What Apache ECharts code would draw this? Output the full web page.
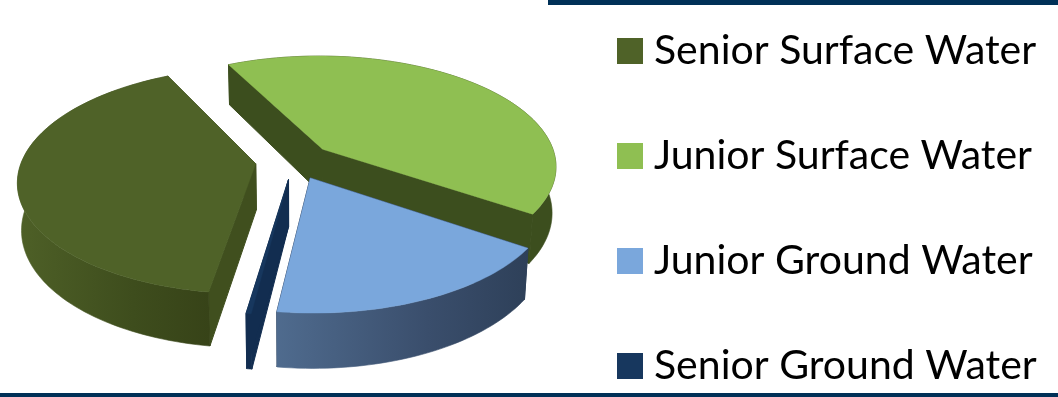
<!DOCTYPE html>
<html>
<head>
<meta charset="utf-8">
<style>html,body{margin:0;padding:0;background:#fff}#chart{width:1058px;height:397px}</style>
<script src="https://cdn.jsdelivr.net/npm/echarts@6/dist/echarts.min.js"></script>
</head>
<body>
<div id="chart"></div>
<script>
// Water right shares, in percent, clockwise around the pie.
const categories = ['Senior Surface Water', 'Junior Surface Water', 'Junior Ground Water', 'Senior Ground Water'];
const shares = [40.3, 41.8, 17.6, 0.3];
const firstSliceAngle = 188.5;

const topColors = ['#4F6228', '#8FBF52', '#7AA7DC', '#17375E'];
const cutColors = ['#404F1E', '#3C4E1E', '#2E4059', '#122D50'];
const wallStops = [
  ['#4E6027', '#3E4D1D', '#374318'],
  ['#3C4E1E', '#3C4E1E', '#3C4E1E'],
  ['#4F6B8E', '#3A4E6C', '#2E4059'],
  ['#122D50', '#122D50', '#122D50']
];
// Slices are painted back to front, so the blue face sits over the green wall.
const paintOrder = [1, 0, 3, 2];

// Projection of the tilted pie onto the screen.
const view = { cx: 294, cy: 161, rx: 234, ry: 110, persp: 0.146, explode: 0.165, depth: 46, shrink: 0.985 };

function project(u, v) {
  const s = 1 / (1 - view.persp * v);
  return { x: view.cx + view.rx * u * s, y: view.cy + view.ry * v * s, s };
}
function topPoint(u, v) {
  const p = project(u, v);
  return [p.x, p.y];
}
function bottomPoint(u, v) {
  const p = project(u, v);
  return [view.cx + (p.x - view.cx) * view.shrink, p.y + view.depth * p.s];
}

function sliceRange(index) {
  const total = shares.reduce((a, b) => a + b, 0);
  let start = firstSliceAngle;
  for (let i = 0; i < index; i++) start += shares[i] / total * 360;
  return [start, start + shares[index] / total * 360];
}

function renderSlice(index) {
  const [from, to] = sliceRange(index);
  const rad = d => d * Math.PI / 180;
  const mid = rad((from + to) / 2);
  const ou = view.explode * Math.sin(mid), ov = -view.explode * Math.cos(mid);
  const steps = Math.max(4, Math.ceil((to - from) / 1.5));
  const arc = [];
  for (let i = 0; i <= steps; i++) {
    const t = rad(from + (to - from) * i / steps);
    arc.push([ou + Math.sin(t), ov - Math.cos(t)]);
  }
  const topArc = arc.map(a => topPoint(a[0], a[1]));
  const lowArc = arc.map(a => bottomPoint(a[0], a[1]));
  const apexTop = topPoint(ou, ov), apexLow = bottomPoint(ou, ov);
  const poly = (points, fill, lineWidth) => ({
    type: 'polygon',
    shape: { points },
    style: { fill, stroke: fill, lineWidth, lineJoin: 'round' }
  });
  const xs = topArc.concat(lowArc).map(p => p[0]);
  const stops = wallStops[index];
  return {
    type: 'group',
    children: [
      poly([apexTop, topArc[0], lowArc[0], apexLow], cutColors[index], 1),
      poly([apexTop, topArc[steps], lowArc[steps], apexLow], cutColors[index], 1),
      poly(topArc.concat(lowArc.slice().reverse()), {
        type: 'linear', global: true,
        x: Math.min.apply(null, xs), y: 0, x2: Math.max.apply(null, xs), y2: 0,
        colorStops: [
          { offset: 0, color: stops[0] },
          { offset: 0.6, color: stops[1] },
          { offset: 1, color: stops[2] }
        ]
      }, 0.6),
      poly([apexTop].concat(topArc), topColors[index], 0.4)
    ]
  };
}

const series = paintOrder.map(i => ({
  type: 'custom',
  name: categories[i],
  coordinateSystem: 'none',
  silent: true,
  animation: false,
  itemStyle: { color: topColors[i] },
  data: [shares[i]],
  renderItem: () => renderSlice(i)
}));

const chart = echarts.init(document.getElementById('chart'), null, { renderer: 'canvas' });
chart.setOption({
  animation: false,
  backgroundColor: '#fff',
  legend: {
    data: categories,
    orient: 'vertical',
    left: 617,
    top: 29,
    padding: 0,
    itemWidth: 26,
    itemHeight: 26,
    itemGap: 61,
    icon: 'rect',
    selectedMode: false,
    textStyle: {
      fontFamily: 'Lato',
      fontSize: 41,
      color: '#000',
      padding: [0, 0, 0, 6],
      lineHeight: 44
    }
  },
  graphic: [
    { type: 'rect', shape: { x: 548, y: 0, width: 510, height: 5 }, style: { fill: '#003057' } },
    { type: 'rect', shape: { x: 0, y: 393, width: 1058, height: 4 }, style: { fill: '#003057' } }
  ],
  series
});
</script>
</body>
</html>
